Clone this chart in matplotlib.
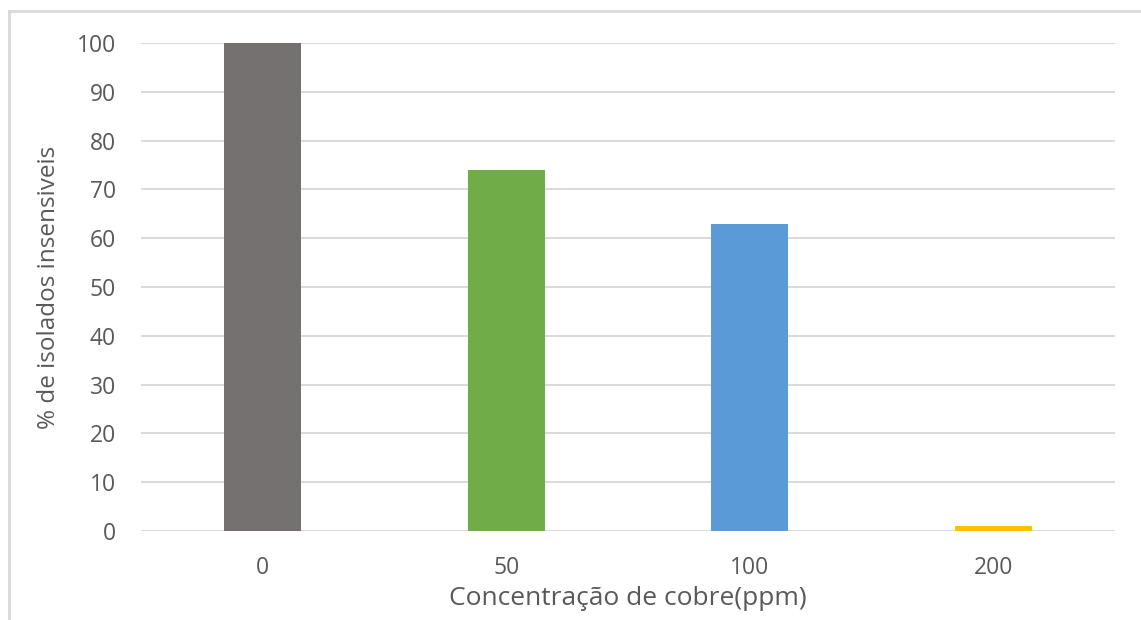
import matplotlib
matplotlib.use("Agg")
import matplotlib.pyplot as plt
from matplotlib.lines import Line2D

categories = ["0", "50", "100", "200"]
values = [100, 74, 63, 1]
colors = ["#767171", "#70AD47", "#5B9BD5", "#FFC000"]
y_ticks = [0, 10, 20, 30, 40, 50, 60, 70, 80, 90, 100]

plt.rcParams["font.family"] = ["Open Sans", "DejaVu Sans"]

W, H = 1141, 620
fig = plt.figure(figsize=(W / 100, H / 100), dpi=100)
ax = fig.add_axes([141 / W, 1 - 531 / H, (1115 - 141) / W, (531 - 43) / H])

x = range(len(categories))
ax.bar(x, values, width=0.316, color=colors, zorder=3)

ax.set_xlim(-0.5, len(categories) - 0.5)
ax.set_ylim(0, 100)
ax.set_yticks(y_ticks)
ax.set_xticks(list(x))
ax.set_xticklabels(categories)
ax.yaxis.grid(True, color="#D9D9D9", linewidth=1.4, zorder=0)
ax.set_axisbelow(True)
for s in ax.spines.values():
    s.set_visible(False)
ax.tick_params(axis="both", length=0, labelsize=16.5, colors="#595959")
ax.tick_params(axis="y", pad=18)
ax.tick_params(axis="x", pad=18)

ax.set_xlabel("Concentração de cobre(ppm)", fontsize=19, color="#595959", labelpad=4)
ax.set_ylabel("% de isolados insensiveis", fontsize=17.5, color="#595959", labelpad=11)

# light frame along the left and top edges
fig.add_artist(Line2D([9 / W, 9 / W], [0, 1 - 11 / H], transform=fig.transFigure,
                      color="#D9D9D9", linewidth=2))
fig.add_artist(Line2D([9 / W, 1], [1 - 11 / H, 1 - 11 / H], transform=fig.transFigure,
                      color="#D9D9D9", linewidth=2))

fig.savefig("out.png", dpi=100, facecolor="white")
